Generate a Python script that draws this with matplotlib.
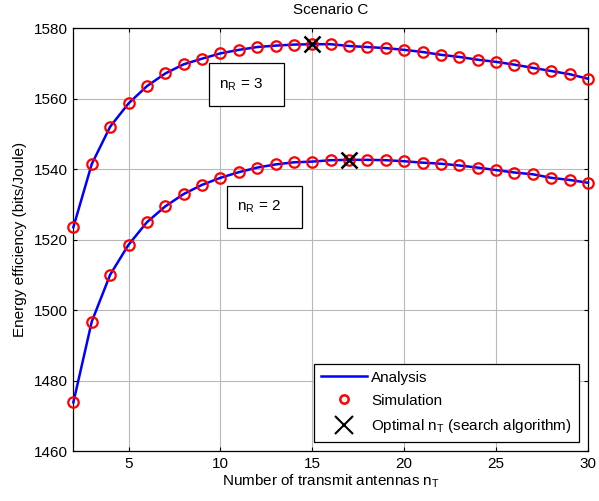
import matplotlib.pyplot as plt
from matplotlib.patches import Rectangle
import numpy as np

plt.rcParams["font.family"] = ["Liberation Sans", "DejaVu Sans"]

n_t = np.arange(2, 31)

# energy efficiency, n_R = 3
ee_nr3 = [1523.5, 1541.4, 1552.0, 1558.6, 1563.5, 1567.1, 1569.7, 1571.3, 1572.8, 1573.8,
          1574.6, 1575.0, 1575.3, 1575.4, 1575.4, 1574.9, 1574.6, 1574.3, 1573.8, 1573.2,
          1572.4, 1571.8, 1571.0, 1570.4, 1569.6, 1568.7, 1567.8, 1566.9, 1565.6]
# energy efficiency, n_R = 2
ee_nr2 = [1473.8, 1496.7, 1510.0, 1518.5, 1524.9, 1529.4, 1532.9, 1535.5, 1537.5, 1539.1,
          1540.4, 1541.3, 1541.9, 1542.1, 1542.5, 1542.6, 1542.6, 1542.5, 1542.2, 1541.8,
          1541.5, 1541.0, 1540.4, 1539.7, 1539.0, 1538.5, 1537.5, 1536.9, 1536.1]

opt_nt = [15, 17]
opt_ee = [1575.4, 1542.6]

x_ticks = [5, 10, 15, 20, 25, 30]
y_ticks = [1460, 1480, 1500, 1520, 1540, 1560, 1580]

# annotation boxes: (x0, y0, width, height), label
boxes = [((9.38, 1557.9, 4.08, 12.2), "n$_\\mathregular{R}$ = 3"),
         ((10.36, 1523.3, 4.08, 11.9), "n$_\\mathregular{R}$ = 2")]

FS = 11

fig = plt.figure(figsize=(5.99, 5.01), dpi=100)
ax = fig.add_axes([0.1225, 0.0998, 0.8591, 0.8443])

for ee in (ee_nr3, ee_nr2):
    ax.plot(n_t, ee, color="#0000ff", linewidth=1.8, zorder=3, clip_on=False)
    ax.plot(n_t, ee, linestyle="none", marker="o", markersize=7.5, markerfacecolor="none",
            markeredgecolor="#ff0000", markeredgewidth=1.6, zorder=4, clip_on=False)
ax.plot(opt_nt, opt_ee, linestyle="none", marker="x", markersize=12, color="black",
        markeredgewidth=1.8, zorder=5)

# legend proxies
h_line, = ax.plot([], [], color="#0000ff", linewidth=1.8, label="Analysis")
h_sim, = ax.plot([], [], linestyle="none", marker="o", markersize=6, markerfacecolor="none",
                 markeredgecolor="#ff0000", markeredgewidth=1.8, label="Simulation")
h_opt, = ax.plot([], [], linestyle="none", marker="x", markersize=13, color="black",
                 markeredgewidth=1.5, label="Optimal n$_\\mathregular{T}$ (search algorithm)")

ax.set_xlim(2, 30)
ax.set_ylim(1460, 1580)
ax.set_xticks(x_ticks)
ax.set_yticks(y_ticks)
ax.grid(True, color="#b8b8b8", linewidth=0.8, linestyle="-")
ax.set_axisbelow(True)
ax.tick_params(direction="in", top=True, right=True, labelsize=FS, length=3, pad=4)
for sp in ax.spines.values():
    sp.set_linewidth(0.9)

ax.set_title("Scenario C", fontsize=FS, pad=10)
ax.set_xlabel("Number of transmit antennas n$_\\mathregular{T}$", fontsize=FS, labelpad=1)
ax.set_ylabel("Energy efficiency (bits/Joule)", fontsize=FS, labelpad=5)

for (x0, y0, w, h), label in boxes:
    ax.add_patch(Rectangle((x0, y0), w, h, facecolor="white", edgecolor="black",
                           linewidth=0.9, zorder=6))
    ax.text(x0 + 0.52, y0 + h / 2, label, fontsize=FS, va="center", ha="left", zorder=7)

leg = ax.legend(handles=[h_line, h_sim, h_opt], loc="lower right", fontsize=FS,
                fancybox=False, edgecolor="black", framealpha=1, borderaxespad=0.6,
                handlelength=3.0, handletextpad=0.3, labelspacing=0.6, borderpad=0.45)
leg.get_frame().set_linewidth(0.9)

fig.savefig("out.png", dpi=100)
